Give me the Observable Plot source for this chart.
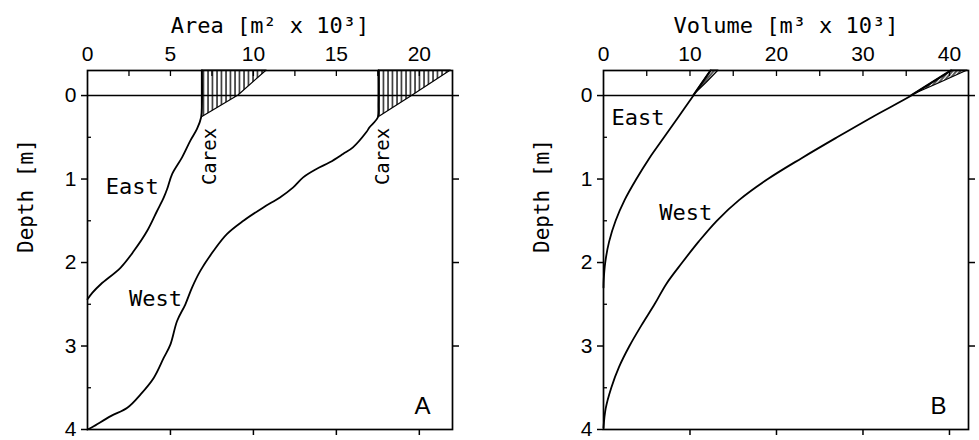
<!DOCTYPE html>
<html><head><meta charset="utf-8">
<script src="https://cdn.jsdelivr.net/npm/d3@7"></script>
<script src="https://cdn.jsdelivr.net/npm/@observablehq/plot@0.6"></script>
<style>
body{margin:0;background:#fff;}
#wrap{display:flex;width:979px;height:440px;overflow:hidden;}
#wrap svg{flex:none;}
</style></head><body><div id="wrap"></div>
<script>
// ---- Panel A: Area [m² x 10³] vs Depth [m] ----
const eastAreaCurve = [[6.9,-0.3],[6.9,0.1],[6.85,0.26],[6.6,0.4],[6.2,0.54],[5.7,0.74],[5.1,0.94],[4.8,1.12],[4.6,1.22],[4.2,1.38],[3.6,1.62],[2.8,1.86],[2.0,2.06],[0.8,2.26],[0.3,2.36],[0,2.44]];
const westAreaCurve = [[17.55,-0.3],[17.55,0.1],[17.5,0.26],[17.0,0.38],[16.8,0.44],[16.0,0.62],[15.4,0.70],[14.6,0.80],[13.8,0.88],[13.0,0.98],[12.4,1.10],[11.6,1.22],[10.6,1.34],[9.4,1.50],[8.4,1.66],[7.6,1.86],[6.8,2.10],[6.3,2.30],[5.9,2.50],[5.4,2.70],[5.0,2.98],[4.6,3.14],[4.0,3.38],[3.2,3.58],[2.4,3.74],[1.4,3.84],[0.3,3.97],[0,4.0]];
// Carex belts: [depth, inner edge, outer edge]
const carexEastArea = [[-0.3,6.9,10.8],[0,6.9,9.1],[0.26,6.9,6.9]];
const carexWestArea = [[-0.3,17.55,21.9],[0,17.55,19.6],[0.26,17.55,17.55]];
const areaTicksLabeled = [0,5,10,15,20];
const areaTicksMinor = [2.5,5,7.5,10,12.5,15,17.5,20];
const areaTicksBottom = [5,10,15,20];

// ---- Panel B: Volume [m³ x 10³] vs Depth [m] ----
const eastVolumeCurve = [[12.4,-0.3],[11.4,-0.15],[10.4,0],[8.7,0.25],[7.0,0.5],[5.3,0.75],[3.8,1.0],[2.45,1.25],[1.4,1.5],[0.65,1.75],[0.2,2.0],[0.03,2.2],[0,2.3]];
const westVolumeCurve = [[40.2,-0.3],[37.9,-0.15],[35.6,0],[31.2,0.25],[27.0,0.5],[22.9,0.75],[19.0,1.0],[15.7,1.25],[13.1,1.5],[11.0,1.75],[9.1,2.0],[7.3,2.25],[5.9,2.5],[4.4,2.75],[3.0,3.0],[1.8,3.25],[0.9,3.5],[0.25,3.75],[0,3.98]];
const carexEastVolume = [[-0.3,12.4,13.3],[-0.15,11.4,11.9],[0,10.4,10.4]];
const carexWestVolume = [[-0.3,40.2,42.1],[-0.15,37.9,38.9],[0,35.6,35.6]];
const volumeTicksLabeled = [0,10,20,30,40];
const volumeTicksMinor = [5,10,15,20,25,30,35,40];
const volumeTicksBottom = [10,20,30,40];

// ---- shared ----
const depthTicks = [0,1,2,3,4];
const depthTicksMinor = [0.5,1.5,2.5,3.5];
const depthTicksRight = [0,1,2,3];
const titleA = "Area [m\u00b2 x 10\u00b3]";
const titleB = "Volume [m\u00b3 x 10\u00b3]";
const depthLabel = "Depth [m]";
const labelsA = [{t:"East", x:2.7, d:1.1},{t:"West", x:4.1, d:2.44}];
const carexLabelsA = [{t:"Carex", x:7.35, d:0.73},{t:"Carex", x:17.8, d:0.73}];
const labelsB = [{t:"East", x:4.0, d:0.27},{t:"West", x:9.5, d:1.41}];

const pts = a => a.map(([x,d]) => ({x,d}));
const belt = a => a.map(([d,x1,x2]) => ({d,x1,x2}));
const MONO = "DejaVu Sans Mono, monospace";
const SANS = "Liberation Sans, Arial, sans-serif";
const none = () => "";

function addHatch(svg, id, angle, w) {
  const ns = "http://www.w3.org/2000/svg";
  const defs = document.createElementNS(ns, "defs");
  const p = document.createElementNS(ns, "pattern");
  p.setAttribute("id", id);
  p.setAttribute("patternUnits", "userSpaceOnUse");
  p.setAttribute("width", w);
  p.setAttribute("height", 10);
  if (angle) p.setAttribute("patternTransform", `rotate(${angle})`);
  const l = document.createElementNS(ns, "line");
  l.setAttribute("x1", 1); l.setAttribute("x2", 1);
  l.setAttribute("y1", -1); l.setAttribute("y2", 11);
  l.setAttribute("stroke", "black"); l.setAttribute("stroke-width", 1.3);
  p.appendChild(l); defs.appendChild(p);
  svg.insertBefore(defs, svg.firstChild);
}

function panel({width, marginLeft, marginRight, xDomain, labeled, minor, bottom, east, west, beltE, beltW, hatchId, title, labels, carex, letter}) {
  return Plot.plot({
    width, height: 440, marginLeft, marginRight, marginTop: 70, marginBottom: 11,
    style: {fontFamily: SANS, fontSize: "21px", background: "white", color: "black", overflow: "visible"},
    x: {domain: xDomain, label: null},
    y: {domain: [-0.3, 4], reverse: true, label: null},
    marks: [
      Plot.areaX(belt(beltE), {y: "d", x1: "x1", x2: "x2", fill: `url(#${hatchId})`, stroke: "black", strokeWidth: 1.2}),
      Plot.areaX(belt(beltW), {y: "d", x1: "x1", x2: "x2", fill: `url(#${hatchId})`, stroke: "black", strokeWidth: 1.2}),
      Plot.ruleY([0], {strokeWidth: 1.6}),
      Plot.line(pts(east), {x: "x", y: "d", curve: "catmull-rom", strokeWidth: 1.8}),
      Plot.line(pts(west), {x: "x", y: "d", curve: "catmull-rom", strokeWidth: 1.8}),
      Plot.frame({strokeWidth: 1.7}),
      Plot.axisX({anchor: "top", ticks: labeled, tickSize: 0, tickPadding: 10, fontSize: 21, fontFamily: SANS, label: null}),
      Plot.axisX({anchor: "top", ticks: minor, tickSize: -5, tickFormat: none, label: null, strokeWidth: 1.3}),
      Plot.axisX({anchor: "bottom", ticks: bottom, tickSize: 6, tickFormat: none, label: null, strokeWidth: 1.5}),
      Plot.axisY({anchor: "left", ticks: depthTicks, tickSize: 6, tickPadding: 5, tickFormat: "d", fontSize: 21, fontFamily: SANS, label: null, strokeWidth: 1.5}),
      Plot.axisY({anchor: "left", ticks: depthTicksMinor, tickSize: -4, tickFormat: none, label: null, strokeWidth: 1.3}),
      Plot.axisY({anchor: "right", ticks: depthTicksRight, tickSize: 6, tickFormat: none, label: null, strokeWidth: 1.5}),
      Plot.text([title], {text: d => d, frameAnchor: "top", lineAnchor: "middle", dy: -45, fontFamily: MONO, fontSize: 22}),
      Plot.text([depthLabel], {text: d => d, frameAnchor: "left", lineAnchor: "middle", rotate: -90, dx: -61, dy: 3, fontFamily: MONO, fontSize: 21}),
      Plot.text(labels, {x: "x", y: "d", text: "t", fontFamily: MONO, fontSize: 22, fill: "black"}),
      Plot.text(carex, {x: "x", y: "d", text: "t", rotate: -90, fontFamily: MONO, fontSize: 19, fill: "black"}),
      Plot.text([letter], {text: d => d, frameAnchor: "bottom-right", lineAnchor: "middle", dx: -30, dy: -23, textAnchor: "middle", fontFamily: SANS, fontSize: 24})
    ]
  });
}

const svgA = panel({width: 490, marginLeft: 87, marginRight: 38, xDomain: [0, 22],
  labeled: areaTicksLabeled, minor: areaTicksMinor, bottom: areaTicksBottom,
  east: eastAreaCurve, west: westAreaCurve, beltE: carexEastArea, beltW: carexWestArea,
  hatchId: "hatchA", title: titleA, labels: labelsA, carex: carexLabelsA, letter: "A"});
addHatch(svgA, "hatchA", 0, 4.5);

const svgB = panel({width: 489, marginLeft: 113, marginRight: 11, xDomain: [0, 42.2],
  labeled: volumeTicksLabeled, minor: volumeTicksMinor, bottom: volumeTicksBottom,
  east: eastVolumeCurve, west: westVolumeCurve, beltE: carexEastVolume, beltW: carexWestVolume,
  hatchId: "hatchB", title: titleB, labels: labelsB, carex: [], letter: "B"});
addHatch(svgB, "hatchB", 40, 3);

document.getElementById("wrap").append(svgA, svgB);
</script></body></html>
